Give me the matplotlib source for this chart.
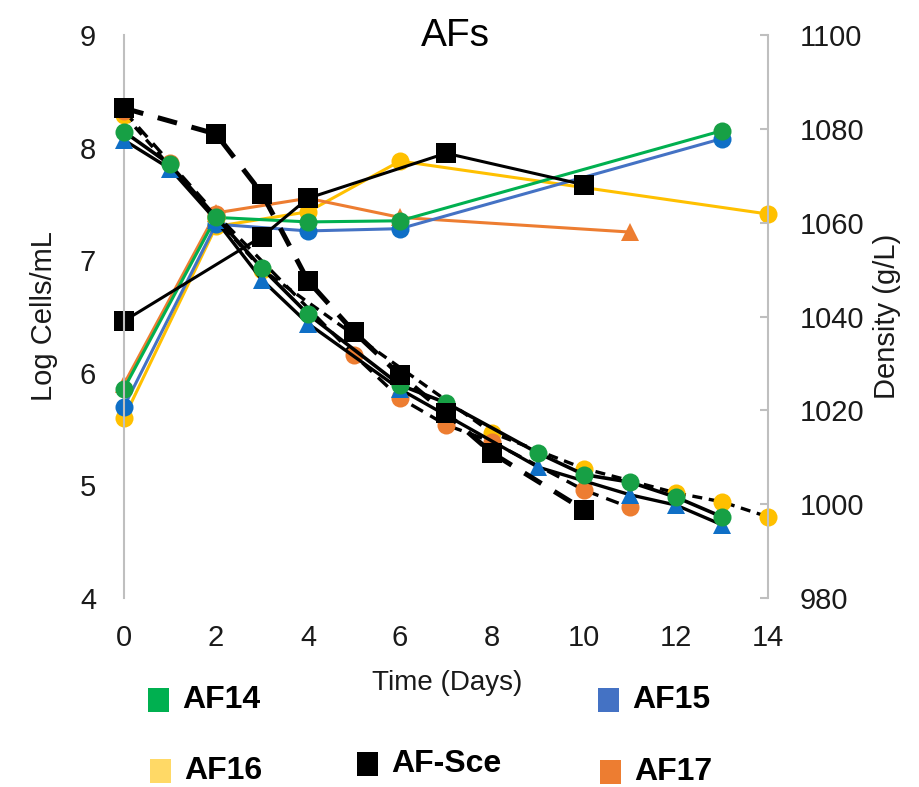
import matplotlib
matplotlib.use("Agg")
import matplotlib.pyplot as plt
from matplotlib.patches import Rectangle

plt.rcParams['font.family'] = ['Liberation Sans', 'DejaVu Sans']

# ---- Cell counts (left axis, Log cells/mL) ----
af14_cell_days = [0, 2, 4, 6, 13]
af14_cells = [5.86, 7.38, 7.34, 7.35, 8.15]
af15_cell_days = [0, 2, 4, 6, 13]
af15_cells = [5.70, 7.32, 7.26, 7.28, 8.08]
af16_cell_days = [0, 2, 4, 6, 14]
af16_cells = [5.60, 7.30, 7.43, 7.88, 7.41]
af17_cell_days = [0, 2, 4, 6, 11]
af17_cells = [5.90, 7.42, 7.55, 7.38, 7.25]
sce_cell_days = [0, 3, 4, 7, 10]
sce_cells = [6.46, 7.21, 7.55, 7.95, 7.67]

# ---- Density (right axis, g/L) ----
af14_dens_days = [0, 1, 2, 3, 4, 6, 7, 9, 10, 11, 12, 13]
af14_dens = [1079.4, 1072.4, 1061.2, 1050.3, 1040.5, 1025.4, 1021.6,
             1010.9, 1006.3, 1004.7, 1001.5, 997.3]
af15_dens_days = [0, 1, 2, 3, 4, 6, 9, 11, 12, 13]
af15_dens = [1077.6, 1071.5, 1060.5, 1047.8, 1038.5, 1024.5, 1007.9,
             1002.0, 999.8, 995.6]
af16_dens_days = [0, 2, 3, 8, 10, 12, 13, 14]
af16_dens = [1083.0, 1061.0, 1050.0, 1015.2, 1007.6, 1002.4, 1000.5, 997.3]
af17_dens_days = [0, 1, 2, 5, 6, 7, 8, 10, 11]
af17_dens = [1083.8, 1072.8, 1061.8, 1031.8, 1022.6, 1016.9, 1013.3,
             1003.0, 999.3]
sce_dens_days = [0, 2, 3, 4, 5, 6, 7, 8, 10]
sce_dens = [1084.4, 1078.9, 1066.2, 1047.6, 1036.7, 1027.5, 1019.4,
            1010.9, 998.8]

x_ticks = [0, 2, 4, 6, 8, 10, 12, 14]
left_ticks = [4, 5, 6, 7, 8, 9]
right_ticks = [980, 1000, 1020, 1040, 1060, 1080, 1100]

GREEN_L, GREEN_M = '#00B050', '#17A045'
BLUE_L, BLUE_M = '#4472C4', '#0F6FC6'
YELLOW_L, YELLOW_M = '#FFC000', '#FFC000'
ORANGE = '#ED7D31'
GRAY = '#BFBFBF'
TXT = '#1a1a1a'

fig = plt.figure(figsize=(9.19, 7.87), dpi=100)
ax = fig.add_axes([124 / 919, 1 - 598 / 787, (768 - 124) / 919, (598 - 35) / 787])
ax2 = ax.twinx()

lw_c = 2.2
ms_c = 13
kw = dict(clip_on=False, markeredgewidth=0)

# cell counts
ax.plot(af16_cell_days, af16_cells, '-o', color=YELLOW_L, mfc=YELLOW_M, lw=lw_c, ms=ms_c, **kw)
ax.plot(af17_cell_days, af17_cells, '-^', color=ORANGE, mfc=ORANGE, lw=lw_c, ms=ms_c, **kw)
ax.plot(af15_cell_days, af15_cells, '-o', color=BLUE_L, mfc=BLUE_M, lw=lw_c, ms=ms_c, **kw)
ax.plot(af14_cell_days, af14_cells, '-o', color=GREEN_L, mfc=GREEN_M, lw=lw_c, ms=ms_c, **kw)
ax.plot(sce_cell_days, sce_cells, '-s', color='black', mfc='black', lw=2.2, ms=15, **kw)

# density
ax2.plot(af16_dens_days, af16_dens, color='black', lw=2.4, ls=(0, (3, 2)),
         marker='o', mfc=YELLOW_M, ms=ms_c, **kw)
ax2.plot(af17_dens_days, af17_dens, color='black', lw=2.4, ls=(0, (4, 2.5)),
         marker='o', mfc=ORANGE, ms=ms_c, **kw)
ax2.plot(af15_dens_days, af15_dens, color='black', lw=2.4, ls='-',
         marker='^', mfc=BLUE_M, ms=ms_c, **kw)
ax2.plot(af14_dens_days, af14_dens, color='black', lw=2.6, ls='-',
         marker='o', mfc=GREEN_M, ms=ms_c, **kw)
ax2.plot(sce_dens_days, sce_dens, color='black', lw=3.6, ls=(0, (4, 3)),
         marker='s', mfc='black', ms=15, **kw)

# axes styling
ax.set_xlim(0, 14)
ax.set_ylim(4, 9)
ax2.set_ylim(980, 1100)
ax.set_xticks(x_ticks)
ax.set_yticks(left_ticks)
ax2.set_yticks(right_ticks)

for a in (ax, ax2):
    for s in a.spines.values():
        s.set_visible(False)
ax.spines['left'].set_visible(True)
ax.spines['left'].set_color(GRAY)
ax.spines['left'].set_linewidth(1.5)
ax2.spines['right'].set_visible(True)
ax2.spines['right'].set_color(GRAY)
ax2.spines['right'].set_linewidth(1.5)

ax.tick_params(axis='x', length=0, pad=19, labelsize=21, labelcolor=TXT)
ax.tick_params(axis='y', length=0, pad=20, labelsize=21, labelcolor=TXT)
ax2.tick_params(axis='y', direction='in', length=6, width=1.5, color=GRAY,
                pad=23, labelsize=21, labelcolor=TXT)

ax.set_ylabel('Log Cells/mL', fontsize=21, labelpad=16, color=TXT)
ax2.set_ylabel('Density (g/L)', fontsize=21, labelpad=6, color=TXT)
fig.text(447 / 919, 1 - 683 / 787, 'Time (Days)', fontsize=20, ha='center', va='center',
         color=TXT)
fig.text(455 / 919, 1 - 36 / 787, 'AFs', fontsize=28, ha='center', va='center')

# legend
legend_items = [
    ('AF14', GREEN_L, 148, 700),
    ('AF15', BLUE_L, 598, 700),
    ('AF16', '#FFD966', 150, 771),
    ('AF-Sce', 'black', 357, 764),
    ('AF17', ORANGE, 600, 772),
]
for label, col, px, py in legend_items:
    fig.add_artist(Rectangle((px / 919, 1 - (py + 12) / 787), 21 / 919, 24 / 787,
                             transform=fig.transFigure, color=col, lw=0))
    fig.text((px + 34) / 919, 1 - py / 787, label, fontsize=23, fontweight='bold',
             ha='left', va='center')

fig.savefig('out.png', dpi=100)
